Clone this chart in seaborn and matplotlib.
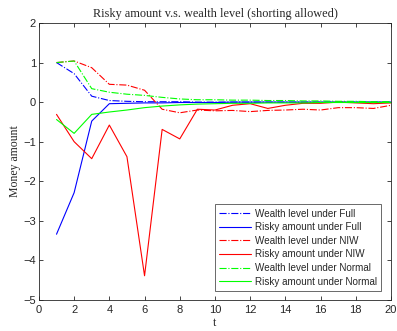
import numpy as np
import pandas as pd
import matplotlib
matplotlib.use("Agg")
import matplotlib.pyplot as plt
import seaborn as sns

sns.set_style("white")
plt.rcParams['font.family'] = ['Liberation Sans', 'DejaVu Sans']

t = list(range(1, 21))
wealth_full = [1.0, 0.72, 0.15, 0.04, 0.02, 0.01, 0.01, 0.01, 0.0, 0.0, 0.0, 0.0, 0.0, 0.0, 0.0, 0.0, 0.0, 0.0, 0.0, 0.0]
risky_full = [-3.34, -2.29, -0.48, -0.04, -0.03, -0.02, -0.02, -0.01, -0.01, -0.01, 0.0, 0.0, 0.0, 0.0, 0.0, 0.0, 0.0, 0.0, 0.0, 0.0]
wealth_niw = [1.0, 1.04, 0.87, 0.45, 0.43, 0.3, -0.18, -0.27, -0.2, -0.22, -0.21, -0.24, -0.21, -0.2, -0.18, -0.2, -0.14, -0.14, -0.16, -0.08]
risky_niw = [-0.31, -1.0, -1.43, -0.58, -1.38, -4.39, -0.69, -0.93, -0.18, -0.2, -0.08, -0.04, -0.16, -0.08, -0.03, -0.03, 0.0, -0.02, -0.04, -0.02]
wealth_normal = [1.0, 1.04, 0.34, 0.25, 0.2, 0.17, 0.12, 0.08, 0.06, 0.06, 0.05, 0.05, 0.04, 0.04, 0.03, 0.03, 0.02, 0.02, 0.01, 0.01]
risky_normal = [-0.44, -0.79, -0.31, -0.25, -0.2, -0.14, -0.1, -0.07, -0.05, -0.04, -0.03, -0.03, -0.02, -0.02, -0.02, -0.01, -0.01, -0.01, -0.01, -0.01]

series = [
    ("Wealth level under Full", wealth_full, "#0000ff", "-."),
    ("Risky amount under Full", risky_full, "#0000ff", "-"),
    ("Wealth level under NIW", wealth_niw, "#ff0000", "-."),
    ("Risky amount under NIW", risky_niw, "#ff0000", "-"),
    ("Wealth level under Normal", wealth_normal, "#00ff00", "-."),
    ("Risky amount under Normal", risky_normal, "#00ff00", "-"),
]

fig = plt.figure(figsize=(3.97, 3.31), dpi=100)
ax = fig.add_axes([0.098, 0.094, 0.887, 0.8365])

for name, vals, col, ls in series:
    df = pd.DataFrame({"t": t, "v": vals})
    sns.lineplot(data=df, x="t", y="v", ax=ax, color=col, linestyle=ls, linewidth=0.8, label=name)

ax.set_xlim(0, 20)
ax.set_ylim(-5, 2)
ax.set_xticks(range(0, 21, 2))
ax.set_yticks(range(-5, 3))
ax.tick_params(direction="in", length=3, width=0.6, labelsize=8, colors="#262626",
               top=True, right=True, bottom=True, left=True, pad=2)
ax.tick_params(axis="x", pad=4)
for s in ax.spines.values():
    s.set_linewidth(0.6)
    s.set_color("#262626")
ax.set_title("Risky amount v.s. wealth level (shorting allowed)", fontsize=8.8,
             family="Liberation Serif", pad=4)
ax.set_xlabel("t", fontsize=8.5, family="Liberation Serif", labelpad=1)
ax.set_ylabel("Money amount", fontsize=8.5, family="Liberation Serif", labelpad=2)

leg = ax.legend(loc="lower right", bbox_to_anchor=(0.972, 0.032), borderaxespad=0,
                fontsize=7.1, frameon=True, fancybox=False, handlelength=3.2,
                handletextpad=0.4, borderpad=0.45, labelspacing=0.36)
leg.get_frame().set_edgecolor("#262626")
leg.get_frame().set_linewidth(0.6)

fig.savefig("out.png", dpi=100)
